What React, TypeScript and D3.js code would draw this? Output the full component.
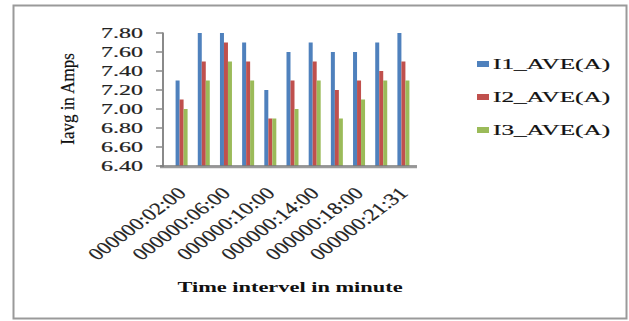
import React from "react";
import * as d3 from "d3";

const categories = [
  "000000:02:00", "000000:04:00", "000000:06:00", "000000:08:00",
  "000000:10:00", "000000:12:00", "000000:14:00", "000000:16:00",
  "000000:18:00", "000000:20:00", "000000:21:31",
];
const seriesNames = ["I1_AVE(A)", "I2_AVE(A)", "I3_AVE(A)"];
const i1 = [7.3, 7.8, 7.8, 7.7, 7.2, 7.6, 7.7, 7.6, 7.6, 7.7, 7.8];
const i2 = [7.1, 7.5, 7.7, 7.5, 6.9, 7.3, 7.5, 7.2, 7.3, 7.4, 7.5];
const i3 = [7.0, 7.3, 7.5, 7.3, 6.9, 7.0, 7.3, 6.9, 7.1, 7.3, 7.3];
const yTicks = [6.4, 6.6, 6.8, 7.0, 7.2, 7.4, 7.6, 7.8];
const colors = ["#4F81BD", "#C0504D", "#9BBB59"];

const W = 629;
const H = 321;
const FONT = "'Liberation Serif', 'Times New Roman', serif";

export default function App() {
  const series = [i1, i2, i3];
  const y = d3.scaleLinear().domain([6.4, 7.8]).range([166, 33]);
  const x = d3.scaleBand<string>().domain(categories).range([170.5, 414.5]).padding(0);
  const xs = d3.scaleBand<string>().domain(seriesNames).range([0, 12]);
  const bandCenter = (c: string) => (x(c) as number) + x.bandwidth() / 2;
  const yAxisX = 163;
  const y0 = y(6.4);

  return (
    <svg width={W} height={H} style={{ position: "absolute", left: 0, top: 0 }} fontFamily={FONT}>
      <rect x={0} y={0} width={W} height={H} fill="#fff" />
      <rect x={13.5} y={5.5} width={613} height={313} fill="#fff" stroke="#9a9a9a" strokeWidth={2} />

      {/* bars */}
      {categories.map((c, ci) => (
        <g key={c} transform={`translate(${bandCenter(c) - 6},0)`}>
          {series.map((s, si) => (
            <rect
              key={si}
              x={xs(seriesNames[si]) as number}
              y={y(s[ci])}
              width={xs.bandwidth()}
              height={y0 - y(s[ci])}
              fill={colors[si]}
            />
          ))}
        </g>
      ))}

      {/* y axis */}
      <line x1={yAxisX} x2={yAxisX} y1={y(7.8) - 0.5} y2={y0 + 1} stroke="#8a8a8a" strokeWidth={2} />
      {yTicks.map((t) => (
        <g key={t}>
          <line x1={yAxisX - 7} x2={yAxisX} y1={y(t)} y2={y(t)} stroke="#8a8a8a" strokeWidth={1.5} />
          <text
            transform={`translate(143,${y(t)}) scale(1.6,1)`}
            textAnchor="end"
            dy="0.35em"
            fontSize={15}
            fill="#222"
            stroke="#222"
            strokeWidth={0.2}
          >
            {d3.format(".2f")(t)}
          </text>
        </g>
      ))}

      {/* x axis */}
      <line x1={160} x2={417} y1={y0 + 1.5} y2={y0 + 1.5} stroke="#9a9a9a" strokeWidth={1.5} />
      <line x1={160} x2={417} y1={y0} y2={y0} stroke="#7a7a7a" strokeWidth={1.5} />

      {/* x labels */}
      {categories.map((c, ci) =>
        ci % 2 === 0 ? (
          <text
            key={c}
            transform={`translate(${bandCenter(c)},190) scale(1.35,1) rotate(-45)`}
            textAnchor="end"
            dy="0.35em"
            fontSize={17}
            fill="#222"
            stroke="#222"
            strokeWidth={0.2}
          >
            {c}
          </text>
        ) : null
      )}

      {/* axis titles */}
      <text
        transform={`translate(290,292) scale(1.6,1)`}
        textAnchor="middle"
        fontSize={14}
        fontWeight="bold"
        fill="#111"
      >
        Time intervel in minute
      </text>
      <text
        transform={`translate(67,99) rotate(-90) scale(1,1.1)`}
        textAnchor="middle"
        dy="0.35em"
        fontSize={17}
        fill="#111"
        stroke="#111"
        strokeWidth={0.2}
      >
        Iavg in Amps
      </text>

      {/* legend */}
      {seriesNames.map((n, i) => (
        <g key={n} transform={`translate(477,${64 + i * 33})`}>
          <rect x={0} y={-3} width={12} height={6} fill={colors[i]} />
          <text
            transform="translate(16,0) scale(1.68,1)"
            dy="0.35em"
            fontSize={15}
            fill="#111"
            stroke="#111"
            strokeWidth={0.2}
          >
            {n}
          </text>
        </g>
      ))}
    </svg>
  );
}
